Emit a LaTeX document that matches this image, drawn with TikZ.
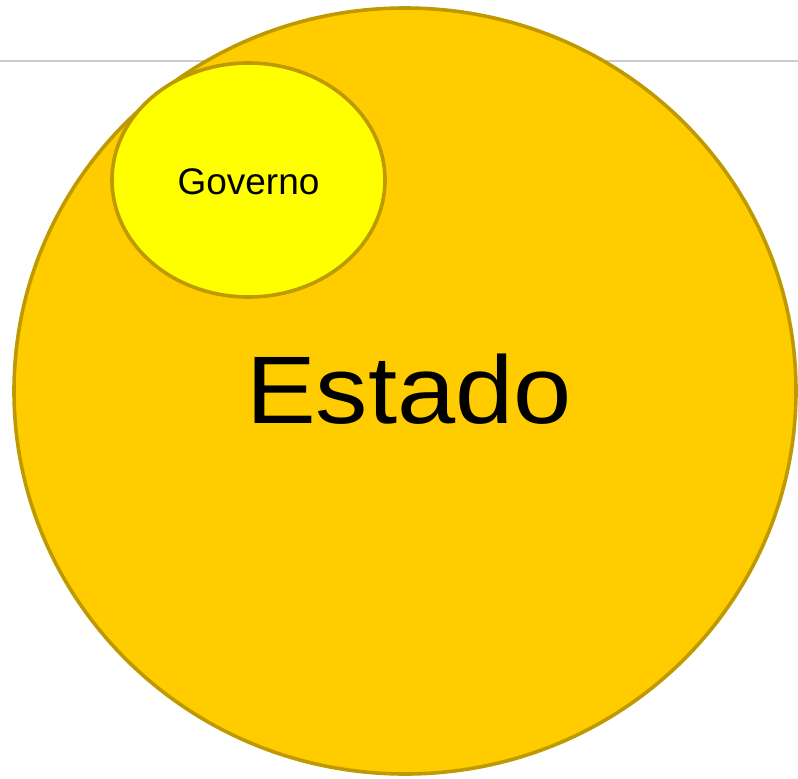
\documentclass[tikz,border=0pt]{standalone}
\usepackage{fontspec}
\setmainfont{Liberation Sans}
\usetikzlibrary{shapes.geometric}
\definecolor{rim}{HTML}{BF9900}
\definecolor{estadofill}{HTML}{FFCC00}
\definecolor{governofill}{HTML}{FFFF00}
\definecolor{rule}{HTML}{CCCCCC}
\tikzset{
	blob/.style={
			ellipse, draw=rim, line width=3.6pt, inner sep=0pt
		}
}

\begin{document}
\begin{tikzpicture}[x=1pt, y=-1pt]
	\clip (0,0) rectangle (798,779);
	\useasboundingbox (0,0) rectangle (798,779);
	\coordinate (ruleL) at (0,61);
	\coordinate (ruleR) at (798,61);
	\draw[rule, line width=1.5pt] (ruleL) -- (ruleR);
	\node[blob, fill=estadofill, minimum width=782pt, minimum height=766pt] (estado) at (405,391) {};
	\node[font=\fontsize{96}{96}\selectfont, xscale=1.09] (estadoText) at (409,389) {Estado};
	\node[blob, fill=governofill, minimum width=273pt, minimum height=234pt] (governo) at (248.5,180) {};
	\node[font=\fontsize{37}{37}\selectfont] (governoText) at (248.5,182) {Governo};
\end{tikzpicture}
\end{document}
